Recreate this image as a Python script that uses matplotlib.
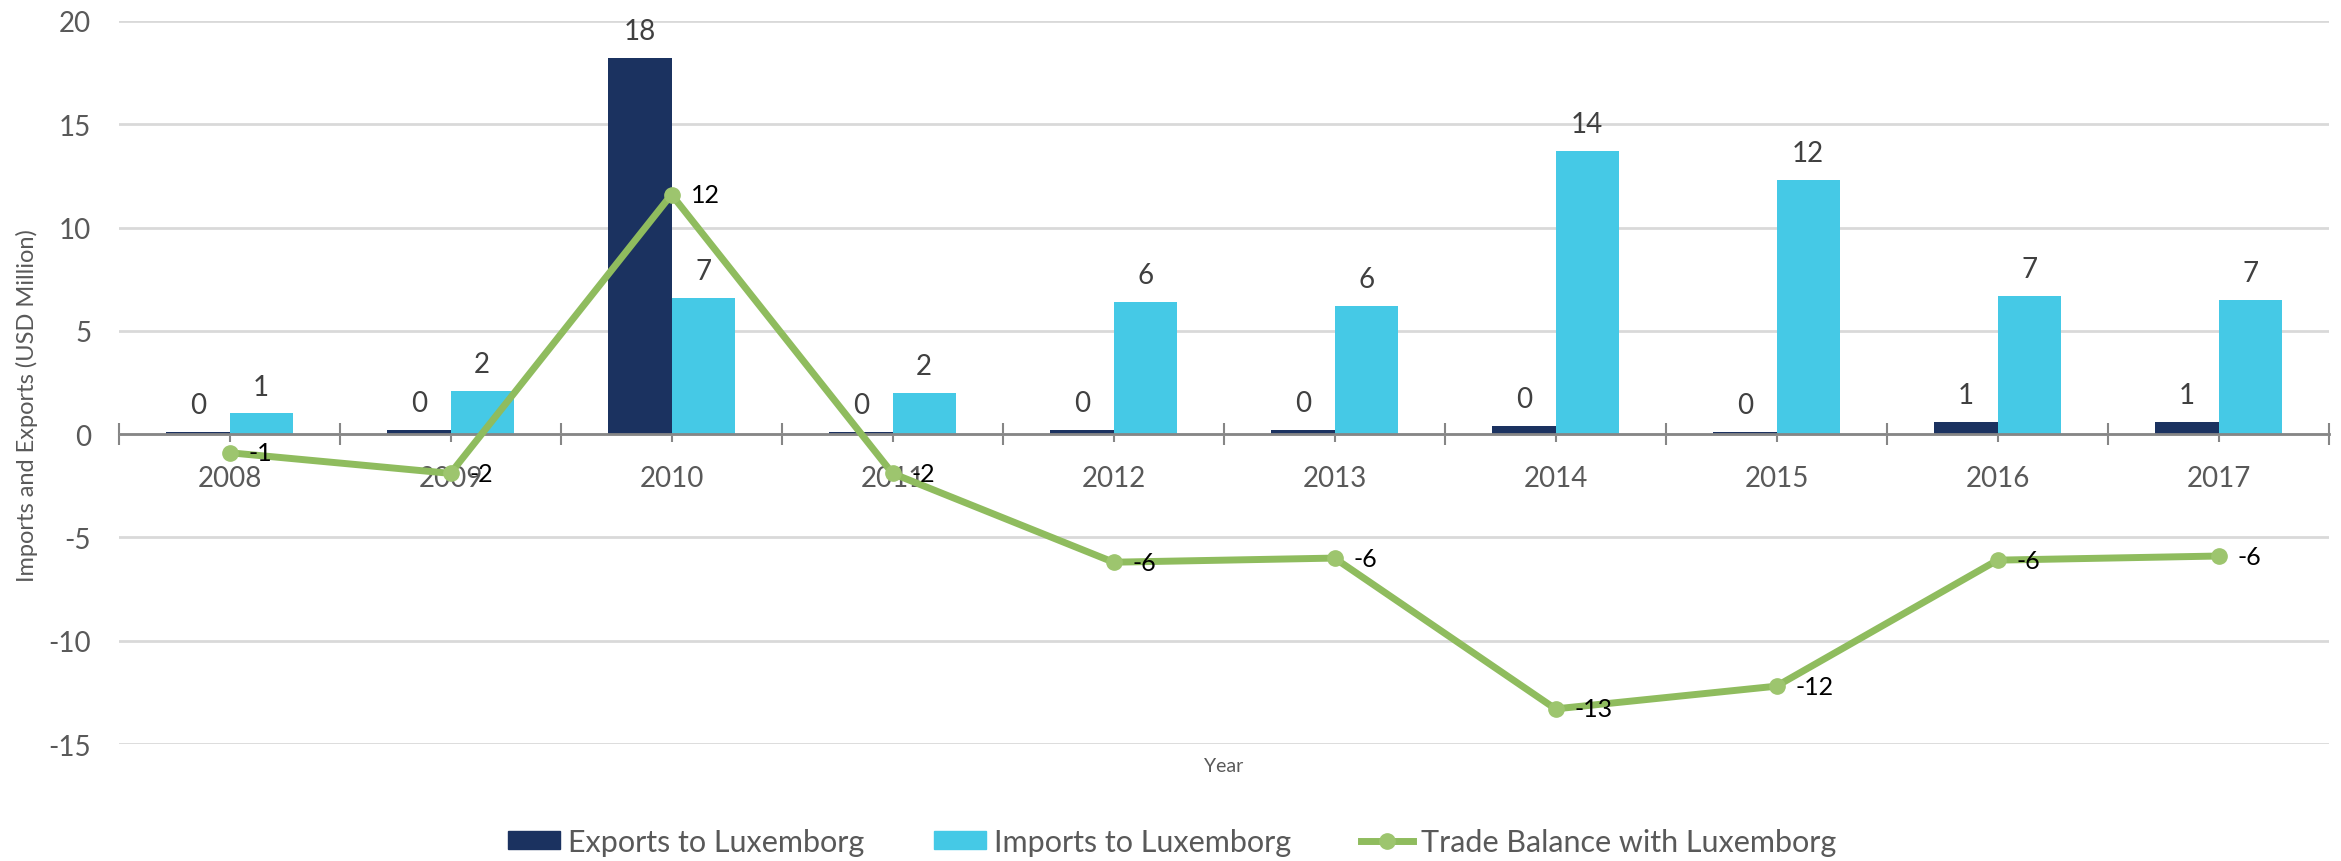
import matplotlib
matplotlib.use("Agg")
import matplotlib.pyplot as plt
from matplotlib.lines import Line2D
from matplotlib.patches import Patch
import numpy as np

years = ["2008", "2009", "2010", "2011", "2012", "2013", "2014", "2015", "2016", "2017"]
exports = [0.1, 0.2, 18.2, 0.1, 0.2, 0.2, 0.4, 0.1, 0.6, 0.6]
imports = [1.0, 2.1, 6.6, 2.0, 6.4, 6.2, 13.7, 12.3, 6.7, 6.5]
balance = [-0.9, -1.9, 11.6, -1.9, -6.2, -6.0, -13.3, -12.2, -6.1, -5.9]

navy = "#1b3260"
cyan = "#45c9e6"
green = "#8fbc5e"
green_mk = "#9dc56e"
grey = "#595959"


def lab(v):
    return str(int(np.floor(v + 0.5)))


plt.rcParams["font.family"] = ["Lato", "DejaVu Sans"]
plt.rcParams["axes.unicode_minus"] = False

W, H = 2341, 862
fig = plt.figure(figsize=(W / 100, H / 100), dpi=100)
ax = fig.add_axes([119 / W, 1 - 745 / H, 2210 / W, (745 - 22) / H])

x = np.arange(len(years))
w = 0.286
b1 = ax.bar(x - w / 2, exports, w, color=navy, zorder=2)
b2 = ax.bar(x + w / 2, imports, w, color=cyan, zorder=2)
ax.bar_label(b1, labels=[lab(v) for v in exports], padding=10, fontsize=20, color="#404040")
ax.bar_label(b2, labels=[lab(v) for v in imports], padding=10, fontsize=20, color="#404040")

ax.plot(x, balance, color=green, lw=5, marker="o", ms=11,
        mfc=green_mk, mec=green_mk, zorder=3)
for i, v in enumerate(balance):
    ax.annotate(lab(v), (i, v), xytext=(14, 0), textcoords="offset points",
                ha="left", va="center", fontsize=18, color="black", zorder=4)

ax.set_xlim(-0.5, 9.5)
ax.set_ylim(-15, 20)
ax.set_yticks(np.arange(-15, 21, 5))
ax.tick_params(axis="y", length=0, labelsize=20, labelcolor=grey, pad=20)
ax.yaxis.grid(True, color="#d9d9d9", lw=2)
ax.set_axisbelow(True)

for s in ["left", "top", "right"]:
    ax.spines[s].set_visible(False)
ax.spines["bottom"].set_position(("data", 0))
ax.spines["bottom"].set_color("#868686")
ax.spines["bottom"].set_linewidth(2)

ax.set_xticks(x)
ax.set_xticklabels(years)
ax.set_xticks(np.arange(-0.5, 10, 1), minor=True)
ax.tick_params(axis="x", which="major", direction="out", length=6, width=1.5,
               color="#868686", labelsize=20, labelcolor=grey, pad=16)
ax.tick_params(axis="x", which="minor", direction="inout", length=16, width=1.5,
               color="#868686")

fig.text(1224 / W, 1 - 767 / H, "Year", ha="center", va="center",
         fontsize=14, color=grey)
fig.text(27 / W, 1 - 406 / H, "Imports and Exports (USD Million)", ha="center",
         va="center", rotation=90, fontsize=17, color=grey)

handles = [
    Patch(color=navy),
    Patch(color=cyan),
    Line2D([], [], color=green, lw=5, marker="o", ms=11, mfc=green_mk, mec=green_mk),
]
labels = ["Exports to Luxemborg", "Imports to Luxemborg", "Trade Balance with Luxemborg"]
leg = fig.legend(handles, labels, loc="center", bbox_to_anchor=(1172 / W, 1 - 843 / H),
                 ncol=3, frameon=False, fontsize=22, handlelength=1.7,
                 handleheight=0.55, handletextpad=0.25, columnspacing=2.3)
for t in leg.get_texts():
    t.set_color(grey)

fig.savefig("out.png", dpi=100)
